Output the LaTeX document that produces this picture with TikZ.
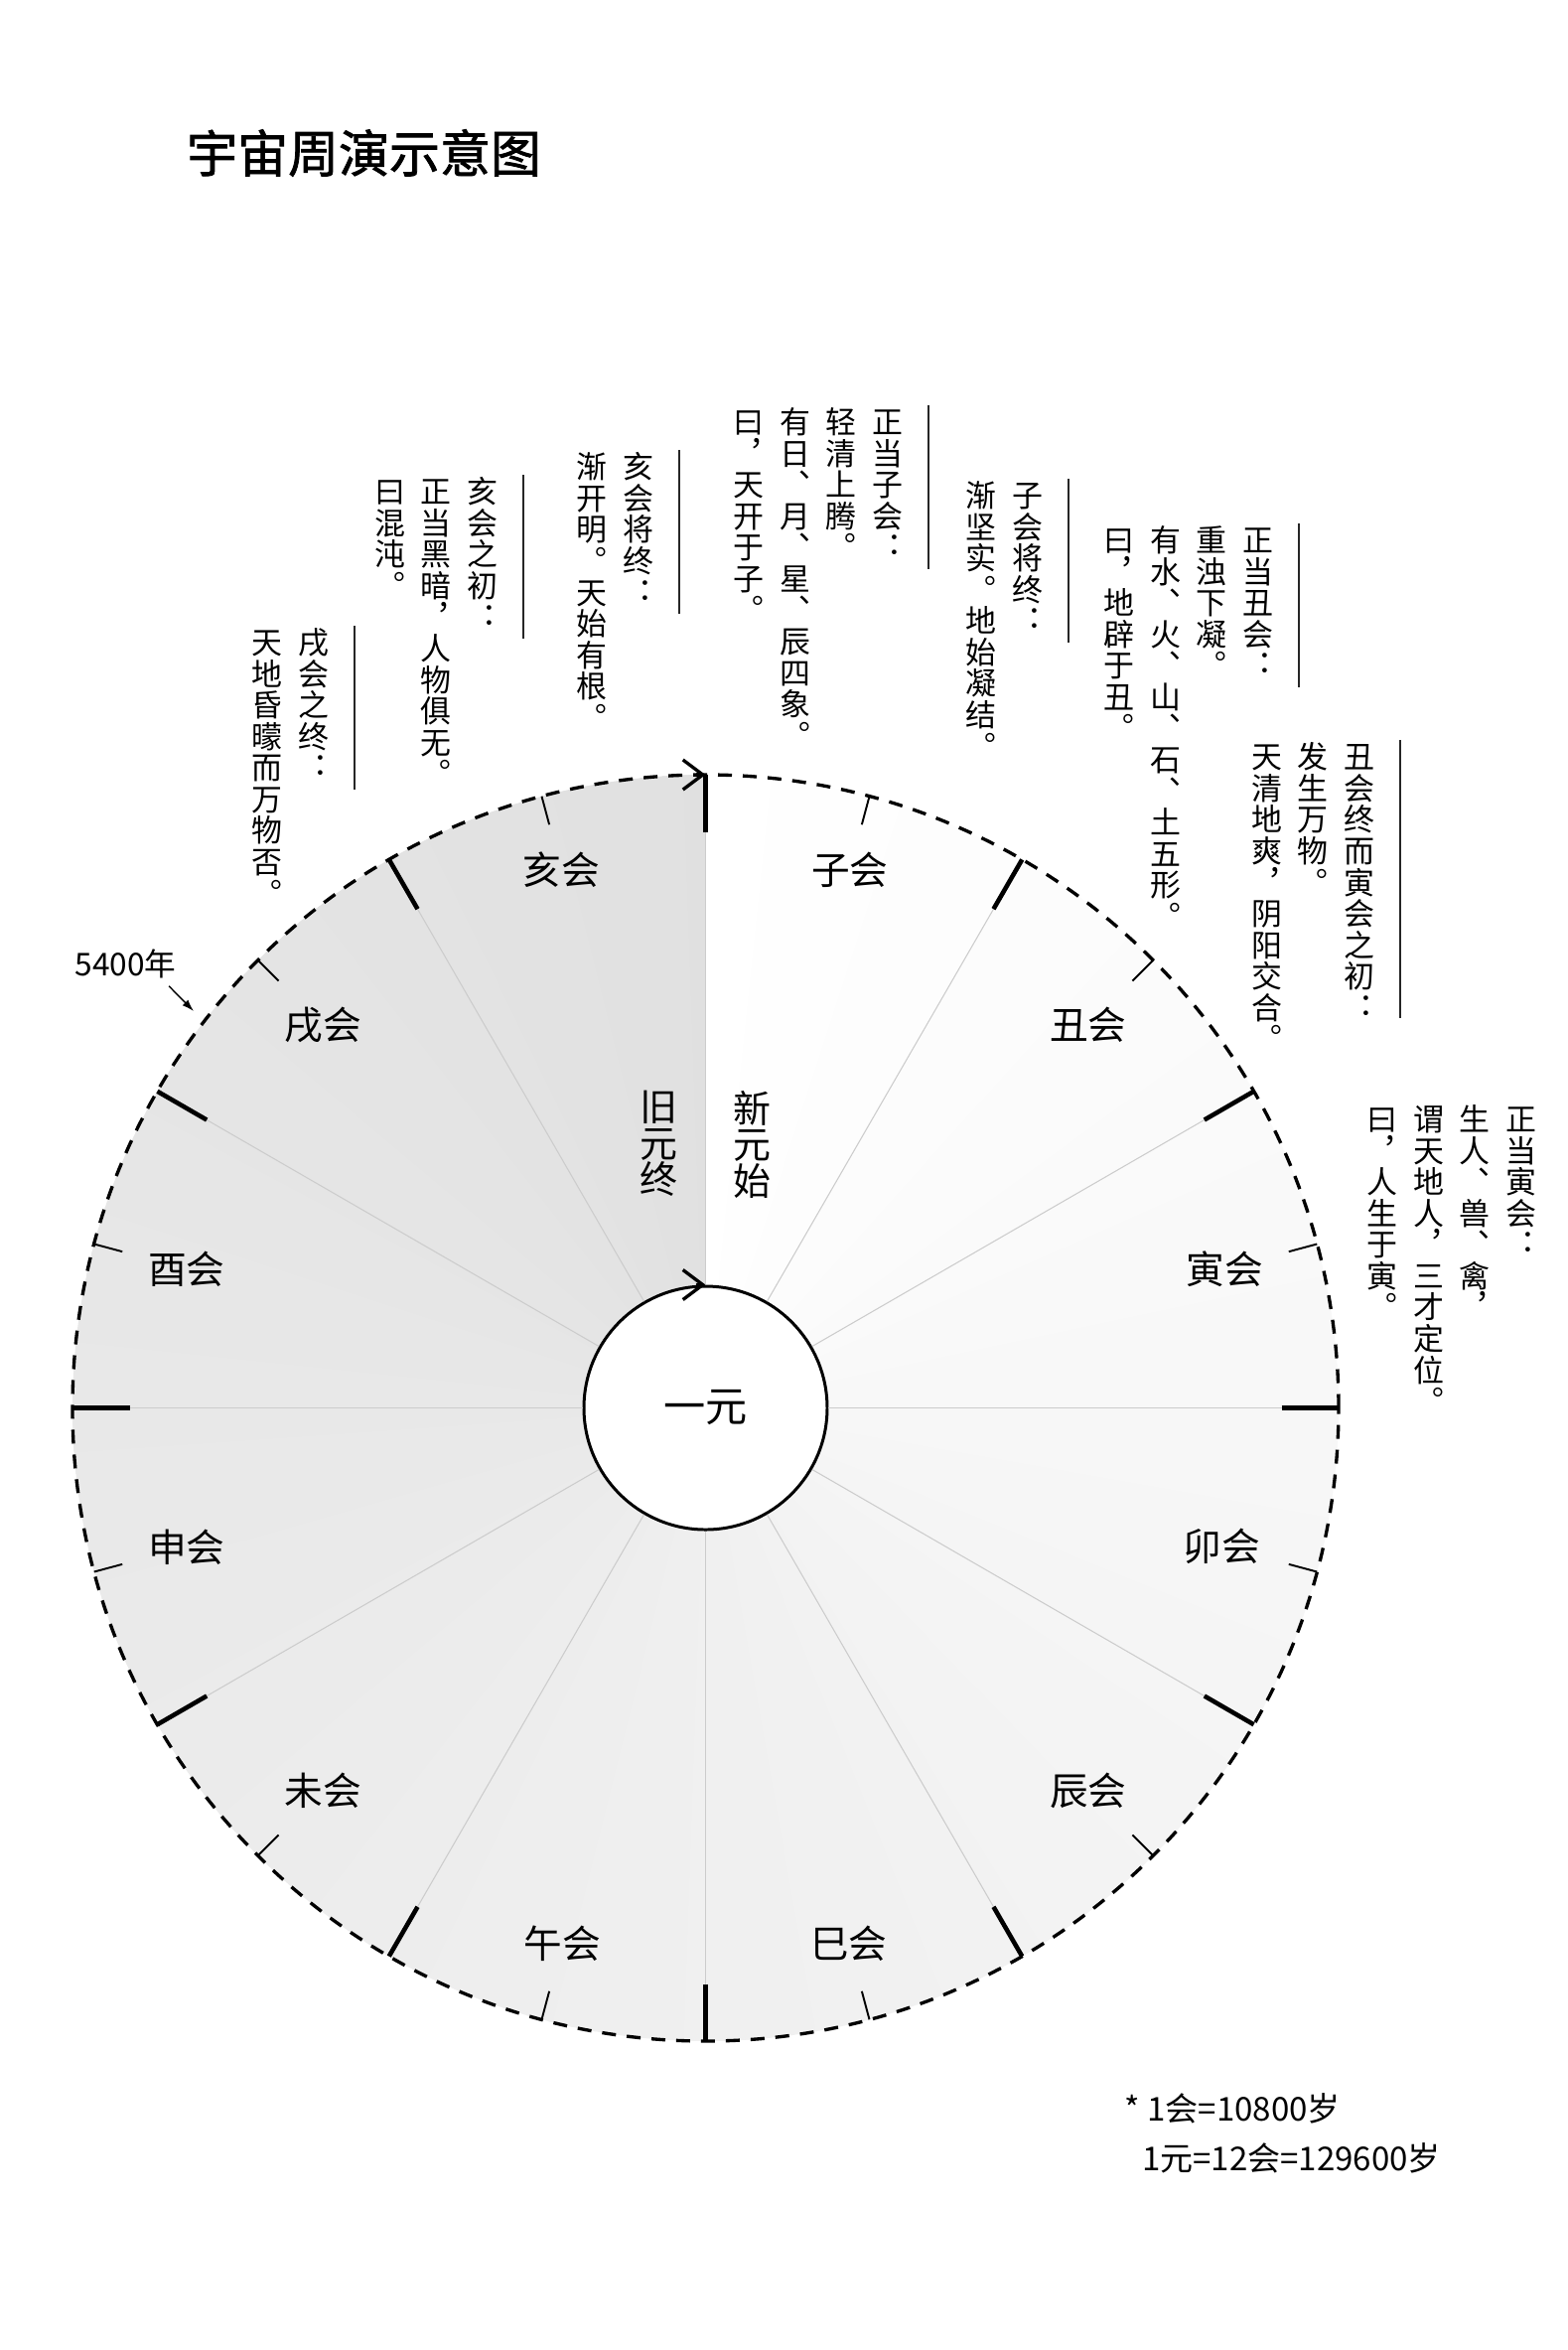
\documentclass[tikz,border=0pt]{standalone}
\usepackage{fontspec}
\setmainfont{Noto Sans CJK SC}
\newfontfamily\vertfont[RawFeature=+vert]{Noto Sans CJK SC}
\newfontfamily\titlefont[FakeBold=1.5]{Noto Sans CJK SC}
\usetikzlibrary{arrows.meta,positioning,calc}

\definecolor{spokegray}{gray}{0.8}

% one character under the other
\def\vcolfactor{1.02}
\newcommand\vcol[1]{\vtop{\baselineskip=\vcolfactor em\lineskiplimit=-\maxdimen\lineskip=0pt\vcolchars#1\vcolstop}}
\def\vcolstop{\vcolstop}
\def\vcolchars#1{\ifx\vcolstop#1\else\hbox to 1em{\hss#1\hss}\expandafter\vcolchars\fi}
\newcommand\vgap{\hskip 0.16cm}

\tikzset{
  vtext/.style={inner sep=0pt, font=\vertfont\fontsize{8.8pt}{9pt}\selectfont},
  vbig/.style={inner sep=0pt, font=\vertfont\fontsize{10.8pt}{12pt}\selectfont\def\vcolfactor{0.96}},
  hui/.style={inner sep=0pt, font=\fontsize{11pt}{13pt}\selectfont},
  grpline/.style={line width=0.35pt, black!85},
  spoke/.style={line width=0.3pt, spokegray},
  bigtick/.style={line width=1.3pt},
  smalltick/.style={line width=0.55pt},
  rim/.style={line width=0.95pt, dash pattern=on 0.14cm off 0.11cm},
  turn/.style={line width=0.95pt, -{Straight Barb[length=0.2cm, width=0.3cm]}},
  note/.style={inner sep=0pt, font=\fontsize{9pt}{11pt}\selectfont},
}

\begin{document}
\begin{tikzpicture}
\useasboundingbox (0,0) rectangle (15.78,-23.66);

% title
\node[anchor=west, inner sep=0pt, font=\titlefont\fontsize{14.5pt}{17pt}\selectfont] (title) at (1.875,-1.54) {宇宙周演示意图};

% --- the wheel ---
\begin{scope}[shift={(7.105,-14.175)}]
  % shading: white at the top, darker going round
  \foreach \ag in {0,2,...,358}{
    \pgfmathsetmacro\lv{12*\ag/358}
    \pgfmathsetmacro\ea{min(\ag+2.5,360)}
    \fill[black!\lv] (0,0) -- (90-\ag:6.375) arc[start angle=90-\ag, end angle=90-\ea, radius=6.375] -- cycle;
  }
  \node[circle, draw, fill=white, line width=0.85pt, minimum size=2.45cm, inner sep=0pt, font=\fontsize{12pt}{14pt}\selectfont] (yiyuan) at (0,0) {一元};
  \foreach \ang in {0,30,...,330}{
    \draw[spoke] (yiyuan.\ang) -- (\ang:5.8);
    \draw[bigtick] (\ang:5.8) -- (\ang:6.375);
  }
  \foreach \ang in {15,45,...,345}
    \draw[smalltick] (\ang:6.08) -- (\ang:6.375);
  \draw[rim] (0,0) circle[radius=6.375];
  \coordinate (rimtop) at (90:6.375);
  \draw[turn] ([xshift=-1mm]rimtop) -- (rimtop);
  \draw[turn] ([xshift=-1mm]yiyuan.north) -- (yiyuan.north);

  % the twelve hui, clockwise from the top
  \foreach \nm/\txt/\ang/\r in {zi/子会/15/5.61, chou/丑会/45/5.45, yin/寅会/75/5.41, mao/卯会/105/5.38,
      chen/辰会/135/5.45, si/巳会/165/5.58, wu/午会/195/5.58, wei/未会/225/5.45,
      shen/申会/255/5.41, you/酉会/285/5.41, xu/戌会/315/5.45, hai/亥会/345/5.61}
    \node[hui] (\nm) at (90-\ang:\r) {\txt};

  \node[vbig, anchor=north] (xinyuan) at (0.465,3.2) {\vcol{新元始}};
  \node[vbig, anchor=north] (jiuyuan) at (-0.475,3.2) {\vcol{旧元终}};
\end{scope}

% --- the notes round the wheel ---
\node[vtext, anchor=north east] (xuend) at (3.325,-6.32) {\vcol{天地昏曚而万物否。}\vgap\vcol{戌会之终：}};
\node[vtext, anchor=north east] (haibegin) at (5.025,-4.80) {\vcol{曰混沌。}\vgap\vcol{正当黑暗，人物俱无。}\vgap\vcol{亥会之初：}};
\node[vtext, anchor=north east] (haiend) at (6.595,-4.55) {\vcol{渐开明。天始有根。}\vgap\vcol{亥会将终：}};
\node[vtext, anchor=north east] (zimid) at (9.105,-4.10) {\vcol{曰，天开于子。}\vgap\vcol{有日、月、星、辰四象。}\vgap\vcol{轻清上腾。}\vgap\vcol{正当子会：}};
\node[vtext, anchor=north east] (ziend) at (10.515,-4.84) {\vcol{渐坚实。地始凝结。}\vgap\vcol{子会将终：}};
\node[vtext, anchor=north east] (choumid) at (12.835,-5.29) {\vcol{曰，地辟于丑。}\vgap\vcol{有水、火、山、石、土五形。}\vgap\vcol{重浊下凝。}\vgap\vcol{正当丑会：}};
\node[vtext, anchor=north east] (chouend) at (13.855,-7.47) {\vcol{天清地爽，阴阳交合。}\vgap\vcol{发生万物。}\vgap\vcol{丑会终而寅会之初：}};
\node[vtext, anchor=north east] (yinmid) at (15.485,-11.12) {\vcol{曰，人生于寅。}\vgap\vcol{谓天地人，三才定位。}\vgap\vcol{生人、兽、禽，}\vgap\vcol{正当寅会：}};

\foreach \g/\len in {xuend/1.65, haibegin/1.65, haiend/1.65, zimid/1.65, ziend/1.65, choumid/1.65, chouend/2.8}
  \draw[grpline] ($(\g.north east)+(0.245,0.02)$) -- ++(0,-\len);

% span of one half
\node[note] (span) at (1.265,-9.705) {5400年};
\coordinate (rimpoint) at (1.95,-10.18);
\draw[line width=0.4pt, -{Latex[length=0.12cm, width=0.08cm]}] ([shift={(-0.08,-0.07)}]span.south east) -- (rimpoint);

% footnote
\node[note, anchor=base west, font=\fontsize{9.4pt}{11pt}\selectfont] (note1) at (11.32,-21.35) {* 1会=10800岁};
\node[note, anchor=base west, font=\fontsize{9.4pt}{11pt}\selectfont] (note2) at (11.495,-21.85) {1元=12会=129600岁};
\end{tikzpicture}
\end{document}
